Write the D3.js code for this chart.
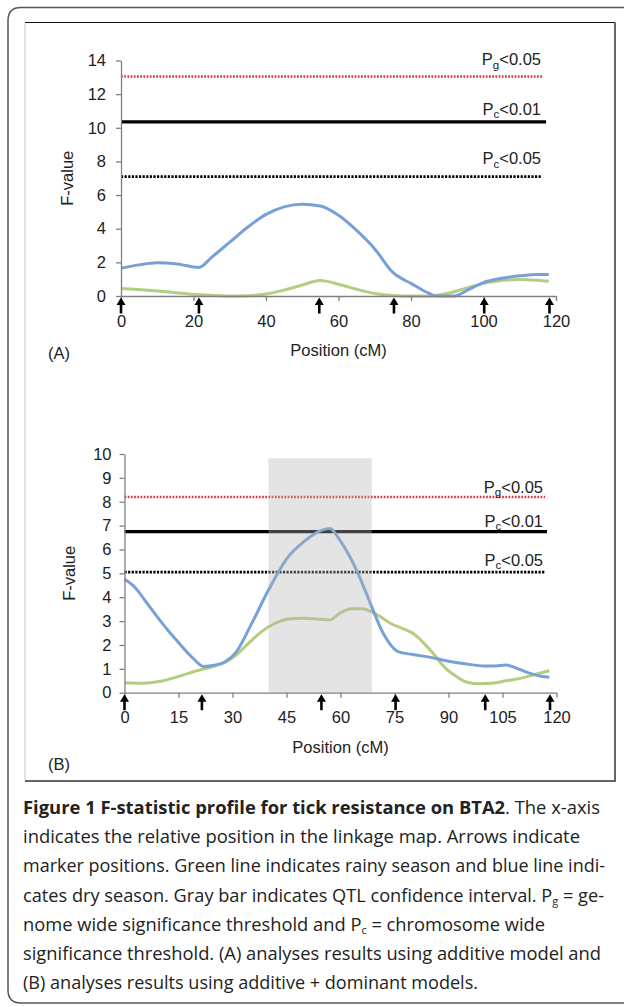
<!DOCTYPE html>
<html>
<head>
<meta charset="utf-8">
<script src="https://cdn.jsdelivr.net/npm/d3@7"></script>
<style>
  body { margin: 0; background: #fff; }
  svg { display: block; }
  .tick text { font-family: "Liberation Sans", Arial, sans-serif; fill: #222; }
</style>
</head>
<body>
<svg id="fig" width="624" height="1007"></svg>
<script>
// marker positions (cM), same map for both panels
const markers = [0, 21.5, 54.7, 75.3, 100.2, 118.2];

// panel A: additive model
const posA   = [0, 5, 10, 15, 21.5, 25, 30, 35, 40, 45, 50, 55, 60, 65, 70, 75, 80, 85, 87, 92, 96, 100, 105, 110, 115, 118];
const blueA  = [1.65, 1.85, 1.97, 1.92, 1.7, 2.3, 3.2, 4.1, 4.85, 5.3, 5.45, 5.35, 4.8, 3.9, 2.8, 1.4, 0.75, 0.15, 0, 0, 0.4, 0.8, 1.05, 1.2, 1.28, 1.28];
const posGA  = [0, 5, 10, 15, 20, 25, 30, 35, 40, 45, 50, 55, 60, 65, 70, 75, 80, 85, 90, 95, 100, 105, 110, 115, 118];
const greenA = [0.45, 0.38, 0.3, 0.2, 0.1, 0.05, 0, 0.02, 0.12, 0.35, 0.65, 0.92, 0.7, 0.4, 0.15, 0.03, 0, 0, 0.15, 0.45, 0.75, 0.92, 0.98, 0.93, 0.87];
const threshA = [13.05, 10.35, 7.1];
const yTicksA = [0, 2, 4, 6, 8, 10, 12, 14];
const xTicksA = [0, 20, 40, 60, 80, 100, 120];

// panel B: additive + dominant model
const posB   = [0, 3, 6, 10, 15, 19, 22, 25, 28, 31, 35, 40, 45, 50, 55, 57, 60, 65, 68, 72, 76, 80, 85, 90, 95, 100, 103, 106, 109, 112, 116, 118];
const blueB  = [4.75, 4.4, 3.8, 3.0, 2.1, 1.45, 1.1, 1.15, 1.3, 1.7, 2.8, 4.3, 5.6, 6.35, 6.82, 6.88, 6.35, 4.95, 3.85, 2.45, 1.72, 1.6, 1.48, 1.32, 1.2, 1.12, 1.12, 1.16, 1.02, 0.84, 0.68, 0.65];
const posGB  = [0, 5, 10, 15, 20, 25, 28, 31, 35, 38, 42, 46, 50, 54, 57, 60, 63, 66, 70, 74, 77, 80, 83, 86, 89, 92, 95, 98, 102, 106, 110, 114, 118];
const greenB = [0.42, 0.4, 0.48, 0.68, 0.92, 1.12, 1.28, 1.58, 2.15, 2.55, 2.92, 3.1, 3.12, 3.08, 3.05, 3.35, 3.52, 3.52, 3.28, 2.9, 2.7, 2.5, 2.1, 1.6, 1.05, 0.7, 0.45, 0.38, 0.4, 0.5, 0.6, 0.76, 0.92];
const threshB = [8.2, 6.75, 5.05];
const yTicksB = [0, 1, 2, 3, 4, 5, 6, 7, 8, 9, 10];
const xTicksB = [0, 15, 30, 45, 60, 75, 90, 105, 120];
const ciB = [40, 68.7, 9.82];   // QTL confidence interval: from, to, top

const threshSub = ["g", "c", "c"];
const threshTxt = ["<0.05", "<0.01", "<0.05"];

// caption pieces: b = bold, s = subscript, n = normal
const captionLines = [
  [["b", "Figure 1 F-statistic profile for tick resistance on BTA2"], ["n", ". The x-axis"]],
  [["n", "indicates the relative position in the linkage map. Arrows indicate"]],
  [["n", "marker positions. Green line indicates rainy season and blue line indi-"]],
  [["n", "cates dry season. Gray bar indicates QTL confidence interval. P"], ["s", "g"], ["n", " = ge-"]],
  [["n", "nome wide significance threshold and P"], ["s", "c"], ["n", " = chromosome wide"]],
  [["n", "significance threshold. (A) analyses results using additive model and"]],
  [["n", "(B) analyses results using additive + dominant models."]]
];
const captionWidths = [577, 557, 582, 581, 522, 578, 455];

const svg = d3.select("#fig");
const axisFont = '"Liberation Sans", Arial, sans-serif';

// card and figure frame
svg.append("path")
  .attr("d", "M640,7.5 H21 Q8,7.5 8,20.5 V990 Q8,1003 21,1003 H640")
  .attr("fill", "none").attr("stroke", "#555").attr("stroke-width", 1.5);
svg.append("line").attr("x1", 25).attr("x2", 25).attr("y1", 22.5).attr("y2", 781)
  .attr("stroke", "#c8c8c8").attr("stroke-width", 1);
svg.append("line").attr("x1", 25).attr("x2", 615).attr("y1", 22.5).attr("y2", 22.5)
  .attr("stroke", "#111").attr("stroke-width", 1);
svg.append("path").attr("d", "M615,22.5 V781 H25")
  .attr("fill", "none").attr("stroke", "#666").attr("stroke-width", 2);

function drawPanel(p) {
  const x = d3.scaleLinear().domain([0, 120]).range([p.left, p.right]);
  const y = d3.scaleLinear().domain([0, p.ymax]).range([p.bottom, p.top]);
  const g = svg.append("g");

  // threshold lines
  const styles = [
    {stroke: "#e0383c", width: 2.4, dash: "1.8,1.4"},
    {stroke: "#000", width: 3.2, dash: null},
    {stroke: "#000", width: 2.8, dash: "2.2,1.4"}
  ];
  p.thresh.forEach((t, i) => {
    g.append("line")
      .attr("x1", x(0)).attr("x2", p.lineEnd[i])
      .attr("y1", y(t)).attr("y2", y(t))
      .attr("stroke", styles[i].stroke)
      .attr("stroke-width", styles[i].width)
      .attr("stroke-dasharray", styles[i].dash);
    const lab = g.append("text")
      .attr("x", p.labelX).attr("y", y(t) - p.labelOff[i])
      .attr("text-anchor", "end")
      .attr("font-family", axisFont).attr("font-size", 16.5).attr("fill", "#222");
    lab.append("tspan").text("P");
    lab.append("tspan").attr("font-size", 11.5).attr("dy", 3.5).text(threshSub[i]);
    lab.append("tspan").attr("dy", -3.5).text(threshTxt[i]);
  });

  // F-statistic curves
  const line = d3.line().x(d => x(d[0])).y(d => y(d[1])).curve(d3.curveMonotoneX);
  g.append("path").datum(d3.zip(p.posG, p.green))
    .attr("d", line).attr("fill", "none")
    .attr("stroke", "#b3ce80").attr("stroke-width", 3);
  g.append("path").datum(d3.zip(p.posBl, p.blue))
    .attr("d", line).attr("fill", "none")
    .attr("stroke", "#78a0d8").attr("stroke-width", 3);

  // confidence interval bar sits over the lines
  if (p.ci) {
    g.append("rect")
      .attr("x", x(p.ci[0])).attr("width", x(p.ci[1]) - x(p.ci[0]))
      .attr("y", y(p.ci[2])).attr("height", y(0) - y(p.ci[2]))
      .attr("fill", "#b4b4b4").attr("opacity", 0.36);
  }

  // axes
  const yAxis = d3.axisLeft(y).tickValues(p.yTicks).tickSize(5).tickSizeOuter(0).tickPadding(p.yPad);
  const xAxis = d3.axisBottom(x).tickValues(p.xTicks).tickSize(5).tickSizeOuter(0).tickPadding(14);
  const ya = g.append("g").attr("transform", `translate(${p.left},0)`).call(yAxis);
  const xa = g.append("g").attr("transform", `translate(0,${p.bottom})`).call(xAxis);
  [ya, xa].forEach(a => {
    a.selectAll("path, line").attr("stroke", "#808080").attr("stroke-width", 1.3);
    a.selectAll("text").attr("font-size", 16.5);
  });

  // marker arrows
  markers.forEach(m => {
    const mx = x(m), my = p.bottom + 1.5;
    g.append("line").attr("x1", mx).attr("x2", mx).attr("y1", my + 5).attr("y2", my + 16)
      .attr("stroke", "#000").attr("stroke-width", 2.6);
    g.append("path")
      .attr("d", `M${mx},${my} L${mx - 4.5},${my + 7.5} L${mx + 4.5},${my + 7.5} Z`)
      .attr("fill", "#000");
  });

  // titles
  g.append("text")
    .attr("transform", `translate(${p.yTitleX},${(p.top + p.bottom) / 2}) rotate(-90)`)
    .attr("text-anchor", "middle")
    .attr("font-family", axisFont).attr("font-size", 16.5).attr("fill", "#222")
    .text("F-value");
  g.append("text")
    .attr("x", (p.left + p.right) / 2).attr("y", p.xTitleY)
    .attr("text-anchor", "middle")
    .attr("font-family", axisFont).attr("font-size", 16.5).attr("fill", "#222")
    .text("Position (cM)");
  g.append("text")
    .attr("x", 48).attr("y", p.tagY)
    .attr("font-family", axisFont).attr("font-size", 16.5).attr("fill", "#222")
    .text(p.tag);
}

drawPanel({
  left: 121, right: 556, top: 60.5, bottom: 296, ymax: 14,
  posBl: posA, blue: blueA, posG: posGA, green: greenA,
  thresh: threshA, lineEnd: [542, 546, 542], labelX: 541, labelOff: [11, 7, 12.5],
  yTicks: yTicksA, xTicks: xTicksA, yPad: 10,
  yTitleX: 73, xTitleY: 356, tag: "(A)", tagY: 359
});

drawPanel({
  left: 124.5, right: 556.5, top: 454, bottom: 692.7, ymax: 10,
  posBl: posB, blue: blueB, posG: posGB, green: greenB, ci: ciB,
  thresh: threshB, lineEnd: [545, 547, 545], labelX: 543, labelOff: [4, 4.7, 6.3],
  yTicks: yTicksB, xTicks: xTicksB, yPad: 8,
  yTitleX: 75, xTitleY: 753, tag: "(B)", tagY: 770
});

// caption
const cap = svg.append("g")
  .attr("font-family", '"Open Sans", "Noto Sans", sans-serif')
  .attr("font-size", 18.5).attr("fill", "#222");
captionLines.forEach((ln, i) => {
  const t = cap.append("text")
    .attr("x", 23).attr("y", 814 + i * 29.2)
    .attr("textLength", captionWidths[i]).attr("lengthAdjust", "spacingAndGlyphs");
  let sub = false;
  ln.forEach(([kind, s]) => {
    const ts = t.append("tspan").text(s);
    if (kind === "b") ts.attr("font-weight", "bold");
    if (kind === "s") { ts.attr("font-size", 11).attr("dy", 3); sub = true; }
    else if (sub) { ts.attr("dy", -3); sub = false; }
  });
});
</script>
</body>
</html>
